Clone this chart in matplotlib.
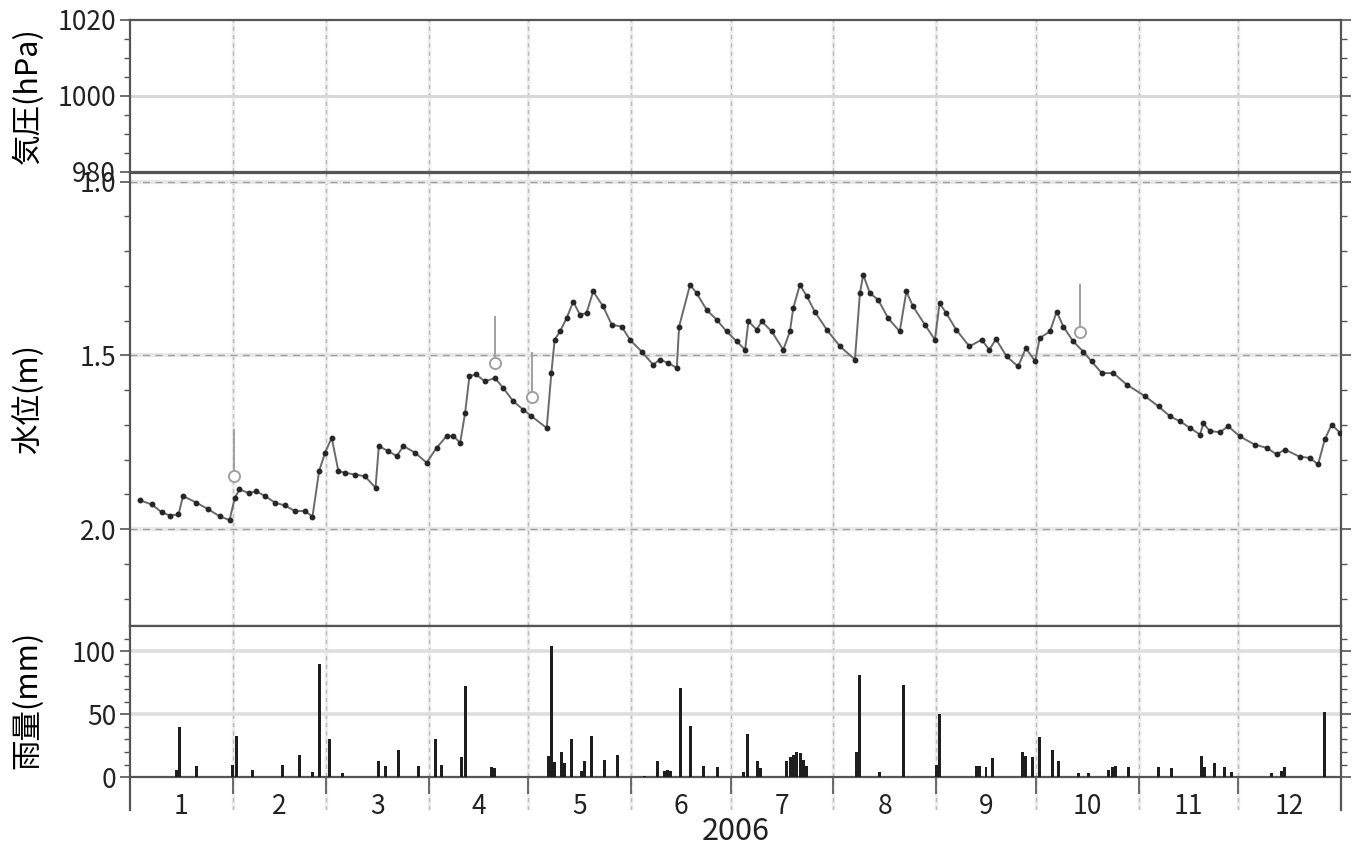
import numpy as np
import matplotlib
matplotlib.use('Agg')
import matplotlib.pyplot as plt
from matplotlib.ticker import MultipleLocator, FixedLocator

plt.rcParams['font.family'] = ['Noto Sans CJK JP', 'DejaVu Sans']

# 水位 (通日, m)
level_day = [3, 6.5, 9.5, 12, 14.6, 16, 20, 23.6, 27, 30,
             31.6, 33, 36, 38, 40.7, 43.7, 46.7, 49.7, 52.7, 55,
             57, 58.8, 60.8, 62.8, 64.8, 67.8, 70.8, 74, 75, 77.9,
             80.4, 82.4, 85.9, 89.4, 92.4, 95.4, 97.4, 99.5, 101, 102.3,
             104.3, 107, 110, 112.5, 115.5, 118.5, 121, 125.6, 127, 128,
             129.6, 131.6, 133.6, 135.6, 137.6, 139.6, 142.6, 145.2, 148.2, 150.7,
             154.2, 157.7, 159.7, 162.2, 164.8, 165.5, 168.8, 170.8, 173.8, 176.8,
             179.8, 182.9, 185.4, 186.4, 188.9, 190.4, 193.4, 196.9, 198.9, 199.9,
             201.9, 204, 206.4, 210, 214, 218.5, 220, 221, 223, 225.5,
             228.5, 232, 234, 236, 239.6, 242.6, 244, 246, 249, 253,
             256.7, 259, 261, 264.2, 267.7, 270, 272.8, 274.2, 277.3, 279.3,
             281.3, 284.3, 287.3, 289.8, 292.9, 296.4, 300.4, 306, 310, 313.4,
             316.5, 319.5, 322.5, 323.5, 325.5, 328.5, 331, 334.5, 339, 342.6,
             345.6, 348.1, 352.6, 355.6, 358.1, 360.1, 362.2, 364.7]
level_m = [1.917, 1.929, 1.951, 1.961, 1.958, 1.905, 1.924, 1.943, 1.963, 1.974,
           1.910, 1.886, 1.897, 1.891, 1.905, 1.924, 1.932, 1.948, 1.948, 1.964,
           1.833, 1.780, 1.737, 1.833, 1.838, 1.843, 1.848, 1.881, 1.761, 1.776,
           1.790, 1.761, 1.780, 1.809, 1.766, 1.733, 1.731, 1.752, 1.666, 1.560,
           1.555, 1.575, 1.565, 1.594, 1.632, 1.656, 1.675, 1.709, 1.551, 1.455,
           1.431, 1.393, 1.345, 1.383, 1.378, 1.316, 1.359, 1.412, 1.417, 1.455,
           1.489, 1.527, 1.512, 1.522, 1.536, 1.417, 1.297, 1.321, 1.369, 1.397,
           1.431, 1.460, 1.484, 1.402, 1.426, 1.402, 1.431, 1.484, 1.431, 1.364,
           1.297, 1.330, 1.374, 1.426, 1.474, 1.512, 1.321, 1.268, 1.321, 1.340,
           1.393, 1.431, 1.316, 1.359, 1.412, 1.455, 1.350, 1.378, 1.426, 1.474,
           1.455, 1.484, 1.453, 1.503, 1.532, 1.479, 1.517, 1.450, 1.431, 1.374,
           1.417, 1.460, 1.489, 1.517, 1.551, 1.551, 1.584, 1.618, 1.647, 1.675,
           1.690, 1.709, 1.728, 1.696, 1.718, 1.721, 1.704, 1.733, 1.757, 1.766,
           1.785, 1.771, 1.792, 1.795, 1.814, 1.742, 1.699, 1.723]

# 日雨量 (通日, mm)
rain_day = [14, 15, 20, 31, 32, 37, 46, 51, 55, 57, 60, 64,
            75, 77, 81, 87, 92, 94, 100, 101,
            109, 110, 126, 127, 128, 130, 131, 133, 136, 137, 139, 143, 147,
            155, 159, 161, 162, 163, 166, 169, 173, 177,
            185, 186, 189, 190, 198, 199, 200, 201, 202, 203, 204,
            219, 220, 226, 233, 243, 244,
            255, 256, 258, 260, 269, 270, 272, 274, 278, 280,
            286, 289, 295, 296, 297, 301, 310, 314,
            323, 324, 327, 330, 332, 344, 347, 348, 360]
rain_mm = [6, 40, 9, 10, 33, 6, 10, 18, 4, 90, 30, 3,
           13, 9, 22, 9, 30, 10, 16, 72,
           8, 7, 17, 104, 12, 20, 11, 30, 5, 13, 33, 14, 18,
           1, 13, 5, 6, 5, 71, 41, 9, 8,
           4, 34, 13, 7, 13, 16, 18, 20, 19, 14, 9,
           20, 81, 4, 73, 10, 50,
           9, 9, 8, 15, 20, 17, 16, 32, 22, 13,
           3, 3, 6, 8, 9, 8, 8, 7,
           17, 8, 11, 8, 4, 3, 5, 8, 52]

# 手測り水位
mark_day = [31.3, 110, 121.2, 286.3]
mark_top = [1.714, 1.389, 1.493, 1.297]
mark_m = [1.846, 1.522, 1.619, 1.432]

month_len = [31, 28, 31, 30, 31, 30, 31, 31, 30, 31, 30, 31]
month_edge = np.concatenate([[0], np.cumsum(month_len)])
month_mid = (month_edge[:-1] + month_edge[1:]) / 2
month_label = [str(i) for i in range(1, 13)]

W, H = 1356, 851
fig = plt.figure(figsize=(W / 100, H / 100), dpi=100)
x0, x1 = 130, 1341


def box(top, bottom):
    return [x0 / W, 1 - bottom / H, (x1 - x0) / W, (bottom - top) / H]


ax_p = fig.add_axes(box(20, 172))
ax_w = fig.add_axes(box(173, 626))
ax_r = fig.add_axes(box(626, 810))


def base(ax):
    ax.set_xlim(0, 365)
    for s in ax.spines.values():
        s.set_color('#555555')
        s.set_linewidth(1.6)
    ax.tick_params(axis='y', which='both', direction='out', left=True, right=True,
                   labelright=False, labelsize=19, colors='#555555', labelcolor='#222222')
    ax.tick_params(axis='y', which='major', length=7, width=1.2, pad=3)
    ax.tick_params(axis='y', which='minor', length=4, width=1)
    for d in month_edge[1:-1]:
        ax.axvline(d, color='#eeeeee', lw=2.5, zorder=0)
        ax.axvline(d, color='#bbbbbb', lw=1, ls=(0, (3, 3)), zorder=0)


# 気圧
base(ax_p)
ax_p.set_ylim(980, 1020)
ax_p.set_yticks([980, 1000, 1020])
ax_p.yaxis.set_minor_locator(MultipleLocator(5))
ax_p.axhline(1000, color='#d8d8d8', lw=2.2, zorder=0)
ax_p.tick_params(axis='x', which='both', bottom=False, labelbottom=False)
ax_p.set_ylabel('気圧(hPa)', fontsize=22, va='center')
ax_p.yaxis.set_label_coords(-0.084, 0.5)

# 水位
base(ax_w)
ax_w.set_ylim(2.279, 0.975)
ax_w.set_yticks([1.0, 1.5, 2.0])
ax_w.set_yticklabels(['1.0', '1.5', '2.0'])
ax_w.yaxis.set_minor_locator(MultipleLocator(0.1))
for v in [1.0, 1.5, 2.0]:
    ax_w.axhline(v, color='#e8e8e8', lw=3, zorder=0)
    ax_w.axhline(v, color='#a0a0a0', lw=1, ls=(0, (5, 4)), zorder=0)
ax_w.tick_params(axis='x', which='both', bottom=False, labelbottom=False)
ax_w.plot(level_day, level_m, color='#6a6a6a', lw=1.4, zorder=2)
ax_w.plot(level_day, level_m, ls='none', marker='o', ms=3.2, color='#262626', zorder=3)
for d, t, m in zip(mark_day, mark_top, mark_m):
    ax_w.plot([d, d], [t, m], color='#a0a0a0', lw=1.4, zorder=2)
ax_w.plot(mark_day, mark_m, ls='none', marker='o', ms=8, mfc='white', mec='#a0a0a0',
          mew=1.4, zorder=4)
ax_w.set_ylabel('水位(m)', fontsize=22, va='center')
ax_w.yaxis.set_label_coords(-0.084, 0.5)

# 雨量
base(ax_r)
ax_r.set_ylim(-26, 120)
ax_r.set_yticks([0, 50, 100])
ax_r.yaxis.set_minor_locator(FixedLocator([v for v in range(10, 120, 10) if v % 50]))
for v in [50, 100]:
    ax_r.axhline(v, color='#dedede', lw=2.6, zorder=0)
ax_r.spines['bottom'].set_position(('data', 0))
ax_r.bar(rain_day, rain_mm, width=0.9, color='#1e1e1e', zorder=3)
ax_r.set_xticks(month_edge)
ax_r.set_xticklabels([''] * len(month_edge))
ax_r.set_xticks(month_mid, minor=True)
ax_r.set_xticklabels(month_label, minor=True)
ax_r.tick_params(axis='x', which='major', direction='out', length=12, width=1.2,
                 colors='#555555')
ax_r.tick_params(axis='x', which='minor', length=0, pad=11, labelsize=19,
                 labelcolor='#222222')
ax_r.set_ylabel('雨量(mm)', fontsize=22, va='center')
ax_r.yaxis.set_label_coords(-0.084, 0.6)

fig.text((x0 + x1) / 2 / W, 1 - 831 / H, '2006', ha='center', va='center',
         fontsize=22, color='#222222')

fig.savefig('out.png', dpi=100)
